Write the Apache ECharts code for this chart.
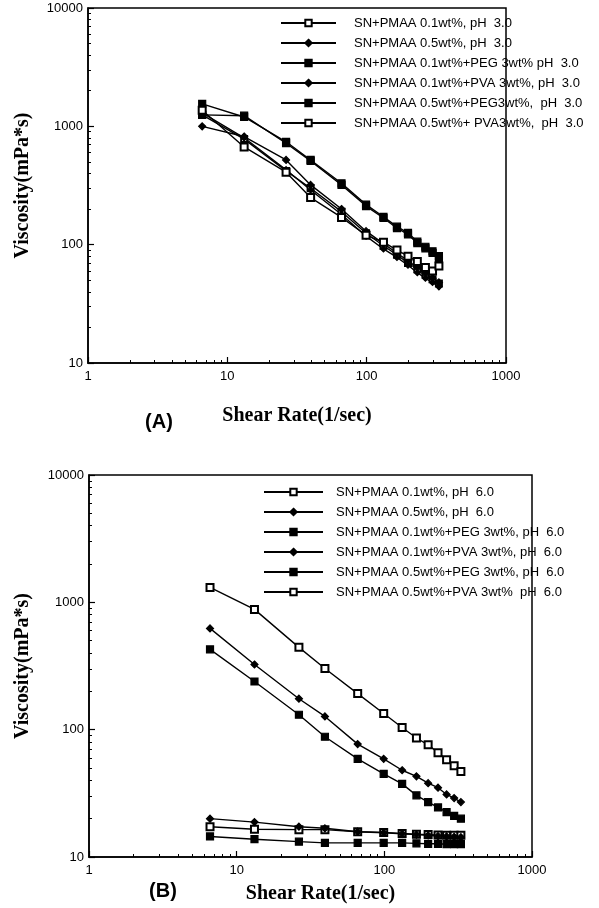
<!DOCTYPE html>
<html>
<head>
<meta charset="utf-8">
<script src="https://cdn.jsdelivr.net/npm/echarts@6/dist/echarts.min.js"></script>
<style>
html, body { margin: 0; padding: 0; background: #fff; }
#chart { width: 599px; height: 908px; }
</style>
</head>
<body>
<div id="chart"></div>
<script>
/// DATA ///

// shear rates (1/sec), same for every curve
var shearRate = [6.6, 13.2, 26.4, 39.6, 66, 99, 132, 165, 198, 231, 264, 297, 330];

// panel A, pH 3.0 (viscosity mPa*s)
var namesA = [
    'SN+PMAA 0.1wt%, pH  3.0',
    'SN+PMAA 0.5wt%, pH  3.0',
    'SN+PMAA 0.1wt%+PEG 3wt% pH  3.0',
    'SN+PMAA 0.1wt%+PVA 3wt%, pH  3.0',
    'SN+PMAA 0.5wt%+PEG3wt%,  pH  3.0',
    'SN+PMAA 0.5wt%+ PVA3wt%,  pH  3.0'
];
var a01 = [1250, 780, 420, 300, 190, 125, 98, 82, 70, 62, 56, 51, 47];
var a05 = [1000, 820, 520, 320, 200, 130, 102, 85, 73, 64, 57, 52, 48];
var a01Peg = [1550, 1200, 740, 520, 330, 218, 172, 142, 126, 106, 96, 88, 80];
var a01Pva = [1300, 800, 430, 290, 180, 118, 92, 78, 67, 58, 52, 48, 44];
var a05Peg = [1250, 1230, 720, 510, 320, 212, 168, 138, 122, 103, 93, 85, 76];
var a05Pva = [1370, 670, 410, 250, 170, 120, 105, 90, 80, 72, 64, 60, 66];

// panel B, pH 6.0
var namesB = [
    'SN+PMAA 0.1wt%, pH  6.0',
    'SN+PMAA 0.5wt%, pH  6.0',
    'SN+PMAA 0.1wt%+PEG 3wt%, pH  6.0',
    'SN+PMAA 0.1wt%+PVA 3wt%, pH  6.0',
    'SN+PMAA 0.5wt%+PEG 3wt%, pH  6.0',
    'SN+PMAA 0.5wt%+PVA 3wt%  pH  6.0'
];
var b01 = [17.3, 16.5, 16.4, 16.4, 15.8, 15.6, 15.3, 15.1, 15.0, 14.9, 14.8, 14.8, 14.8];
var b05 = [20, 18.8, 17.3, 16.8, 15.8, 15.5, 15.2, 15.0, 14.8, 14.6, 14.5, 14.4, 14.3];
var b01Peg = [427, 239, 131, 88, 59, 45, 37.5, 30.5, 27, 24.5, 22.5, 21, 20];
var b01Pva = [624, 325, 175, 127, 77, 59, 48, 43, 38, 35, 31, 29, 27];
var b05Peg = [14.5, 13.8, 13.2, 12.9, 12.9, 12.9, 12.9, 12.8, 12.7, 12.7, 12.6, 12.6, 12.6];
var b05Pva = [1310, 880, 443, 302, 192, 134, 104, 86, 76, 66, 58, 52, 47];

// tick values
var xMajor = [1, 10, 100, 1000];
var yMajor = [10, 100, 1000, 10000];

/// HELPERS ///

// 2..9 times each decade start, for the small ticks
function minorValues(decades) {
    var out = [];
    for (var i = 0; i < decades.length; i++) {
        for (var k = 2; k <= 9; k++) {
            out.push(decades[i] * k);
        }
    }
    return out;
}

function pairs(values) {
    var out = [];
    for (var i = 0; i < values.length; i++) {
        out.push([shearRate[i], values[i]]);
    }
    return out;
}

// plain numbers, no thousands separator
function plain(v) {
    return String(Math.round(v));
}

var font = 'Liberation Sans';
var serif = 'Liberation Serif';

function mainX(grid, nameGap, namePad) {
    return {
        type: 'log', logBase: 10, gridIndex: grid, min: 1, max: 1000, position: 'bottom',
        name: 'Shear Rate(1/sec)', nameLocation: 'middle', nameGap: nameGap,
        nameTextStyle: { fontFamily: serif, fontWeight: 'bold', fontSize: 20, color: '#000', padding: namePad },
        axisLine: { show: true, lineStyle: { color: '#000', width: 1.5 } },
        axisTick: { show: true, inside: true, length: 6, customValues: xMajor, lineStyle: { color: '#000', width: 1.2 } },
        axisLabel: { fontFamily: font, fontSize: 13, color: '#000', margin: 7, customValues: xMajor, formatter: plain },
        splitLine: { show: false }
    };
}

function minorX(grid) {
    return {
        type: 'log', logBase: 10, gridIndex: grid, min: 1, max: 1000, position: 'bottom',
        axisLine: { show: false },
        axisTick: { show: true, inside: true, length: 3, customValues: minorValues([1, 10, 100]), lineStyle: { color: '#000', width: 1 } },
        axisLabel: { show: false },
        splitLine: { show: false }
    };
}

function mainY(grid, nameGap) {
    return {
        type: 'log', logBase: 10, gridIndex: grid, min: 10, max: 10000, position: 'left',
        name: 'Viscosity(mPa*s)', nameLocation: 'middle', nameRotate: 90, nameGap: nameGap,
        nameTextStyle: { fontFamily: serif, fontWeight: 'bold', fontSize: 20, color: '#000' },
        axisLine: { show: true, lineStyle: { color: '#000', width: 1.5 } },
        axisTick: { show: true, inside: true, length: 6, customValues: yMajor, lineStyle: { color: '#000', width: 1.2 } },
        axisLabel: { fontFamily: font, fontSize: 13, color: '#000', margin: 5, customValues: yMajor, formatter: plain },
        splitLine: { show: false }
    };
}

function minorY(grid) {
    return {
        type: 'log', logBase: 10, gridIndex: grid, min: 10, max: 10000, position: 'left',
        axisLine: { show: false },
        axisTick: { show: true, inside: true, length: 3, customValues: minorValues([10, 100, 1000]), lineStyle: { color: '#000', width: 1 } },
        axisLabel: { show: false },
        splitLine: { show: false }
    };
}

function curve(name, values, axis, symbol, size) {
    return {
        name: name,
        type: 'line',
        xAxisIndex: axis,
        yAxisIndex: axis,
        data: pairs(values),
        symbol: symbol,
        symbolSize: size,
        showAllSymbol: true,
        lineStyle: { color: '#000', width: 1.4 },
        itemStyle: { color: '#000', borderColor: '#000', borderWidth: 1.2 },
        emphasis: { disabled: true }
    };
}

function legendFor(names, left, top, itemWidth, textPad) {
    return {
        data: names,
        orient: 'vertical',
        left: left,
        top: top,
        padding: 0,
        itemWidth: itemWidth,
        itemHeight: 8,
        itemGap: 6,
        selectedMode: false,
        textStyle: { fontFamily: font, fontSize: 13, color: '#000', lineHeight: 14, padding: [0, 0, 0, textPad] }
    };
}

/// CHART ///

var chart = echarts.init(document.getElementById('chart'));

var option = {
    backgroundColor: '#fff',
    animation: false,
    grid: [
        { left: 88, top: 8, width: 418, height: 355, show: true, borderColor: '#000', borderWidth: 1.5, backgroundColor: 'transparent' },
        { left: 89, top: 475, width: 443, height: 382, show: true, borderColor: '#000', borderWidth: 1.5, backgroundColor: 'transparent' }
    ],
    xAxis: [mainX(0, 43, [0, 0, 0, 0]), minorX(0), mainX(1, 27, [0, 0, 0, 20]), minorX(1)],
    yAxis: [mainY(0, 55), minorY(0), mainY(1, 56), minorY(1)],
    legend: [
        legendFor(namesA, 280, 16, 55, 13),
        legendFor(namesB, 263, 485, 59, 8)
    ],
    graphic: [
        { type: 'text', x: 159, y: 422, style: { text: '(A)', font: 'bold 20px "Liberation Sans"', textAlign: 'center', textVerticalAlign: 'middle', fill: '#000' } },
        { type: 'text', x: 163, y: 891, style: { text: '(B)', font: 'bold 20px "Liberation Sans"', textAlign: 'center', textVerticalAlign: 'middle', fill: '#000' } }
    ],
    series: [
        curve(namesA[0], a01, 0, 'emptyRect', 6),
        curve(namesA[1], a05, 0, 'diamond', 7),
        curve(namesA[2], a01Peg, 0, 'rect', 7),
        curve(namesA[3], a01Pva, 0, 'diamond', 6),
        curve(namesA[4], a05Peg, 0, 'rect', 7),
        curve(namesA[5], a05Pva, 0, 'emptyRect', 7),

        curve(namesB[0], b01, 2, 'emptyRect', 7),
        curve(namesB[1], b05, 2, 'diamond', 7),
        curve(namesB[2], b01Peg, 2, 'rect', 7),
        curve(namesB[3], b01Pva, 2, 'diamond', 7),
        curve(namesB[4], b05Peg, 2, 'rect', 7),
        curve(namesB[5], b05Pva, 2, 'emptyRect', 7)
    ]
};

chart.setOption(option);
</script>
</body>
</html>
